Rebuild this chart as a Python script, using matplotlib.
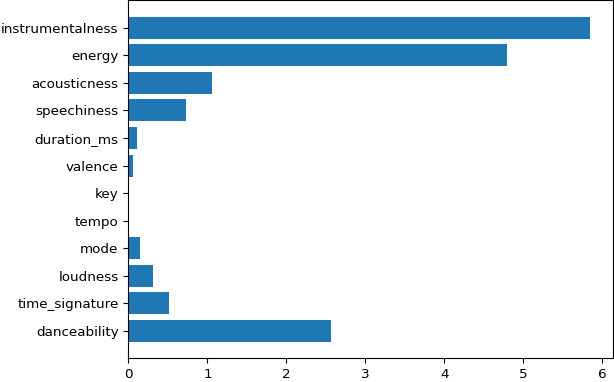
import matplotlib
matplotlib.use("Agg")
import matplotlib.pyplot as plt

features = ["danceability", "time_signature", "loudness", "mode", "tempo", "key",
            "valence", "duration_ms", "speechiness", "acousticness", "energy",
            "instrumentalness"]
scores = [2.56, 0.51, 0.31, 0.15, 0.0, 0.0, 0.06, 0.105, 0.73, 1.06, 4.79, 5.84]

fig, ax = plt.subplots(figsize=(6.14, 3.82), dpi=100)
ax.barh(features, scores, color='#1f77b4')
ax.tick_params(labelsize=9.7)

plt.subplots_adjust(left=0.209, right=0.998, top=0.999, bottom=0.062)
plt.savefig("out.png", dpi=100)
